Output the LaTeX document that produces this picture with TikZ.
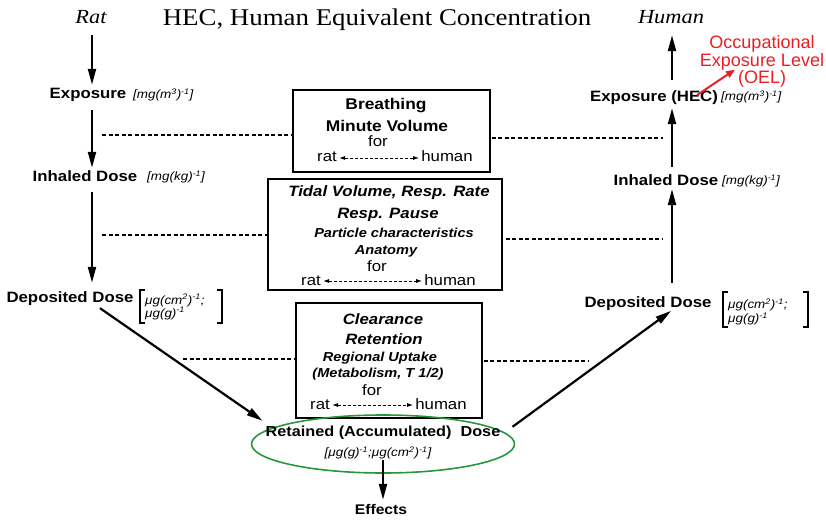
\documentclass[tikz,border=0pt]{standalone}
\usepackage{fontspec}
\setmainfont{Liberation Serif}[FakeStretch=1.12]
\setsansfont{Liberation Sans}[FakeStretch=1.12]
\newfontfamily\oelfont{Liberation Sans}
\usetikzlibrary{arrows.meta,shapes.geometric}
\definecolor{ellgreen}{RGB}{40,150,60}
\definecolor{oelred}{RGB}{235,30,35}
\tikzset{
  serifit/.style={font=\rmfamily\itshape\fontsize{20}{24}\selectfont, inner sep=0pt, text height=14pt, text depth=0pt},
  lbl/.style={font=\sffamily\bfseries\fontsize{15}{18}\selectfont, inner sep=0pt, text height=11pt, text depth=3pt},
  unitt/.style={font=\sffamily\itshape\fontsize{12}{13}\selectfont, inner sep=0pt, text height=8pt, text depth=3pt},
  unitb/.style={font=\sffamily\itshape\fontsize{12}{13}\selectfont, inner sep=0pt, align=left},
  bt/.style={font=\sffamily\bfseries\fontsize{15.5}{18}\selectfont, inner sep=0pt},
  bi/.style={font=\sffamily\bfseries\itshape\fontsize{15}{18}\selectfont, inner sep=0pt},
  bis/.style={font=\sffamily\bfseries\itshape\fontsize{13}{16}\selectfont, inner sep=0pt},
  rt/.style={font=\sffamily\fontsize{15}{18}\selectfont, inner sep=0pt, text height=11pt, text depth=3pt},
  boxx/.style={draw, line width=1.3pt, inner sep=0pt},
  arr/.style={line width=2.2pt, -{Triangle[length=16pt,width=8pt]}},
  dl/.style={line width=1.5pt, dash pattern=on 4pt off 2.5pt},
  dbl/.style={line width=0.9pt, dash pattern=on 3pt off 2pt, {Latex[length=6pt,width=4pt]}-{Latex[length=6pt,width=4pt]}, shorten <=2pt, shorten >=2pt},
  brk/.style={line width=1.1pt},
}
\begin{document}
\begin{tikzpicture}[x=1pt,y=-1pt]
\useasboundingbox (0,0) rectangle (826,521);
% column coordinates
\coordinate (colL) at (92,0);
\coordinate (colR) at (672,0);
% headings
\node[serifit] (rat) at (91,17) {Rat};
\node[serifit] (human) at (671,17) {Human};
\node[font=\rmfamily\fontsize{24}{28}\selectfont, inner sep=0pt] (title) at (377,20) {HEC, Human Equivalent Concentration};
% left labels
\node[lbl] (expL) at (88,95) {Exposure};
\node[unitt, anchor=west] (expLu) at (133,96) {[mg(m\textsuperscript{3})\textsuperscript{-1}]};
\node[lbl] (inhL) at (85,178) {Inhaled Dose};
\node[unitt, anchor=west] (inhLu) at (147,178) {[mg(kg)\textsuperscript{-1}]};
\node[lbl] (depL) at (70,298) {Deposited Dose};
\node[unitb, anchor=west] (depLu) at (145,307) {μg(cm\textsuperscript{2})\textsuperscript{-1};\\μg(g)\textsuperscript{-1}};
\draw[brk] (145,290) -- (140,290) -- (140,323) -- (145,323);
\draw[brk] (217,290) -- (222,290) -- (222,323) -- (217,323);
% right labels
\node[lbl] (expR) at (654,98) {Exposure (HEC)};
\node[unitt, anchor=west] (expRu) at (721,98) {[mg(m\textsuperscript{3})\textsuperscript{-1}]};
\node[lbl] (inhR) at (666,182) {Inhaled Dose};
\node[unitt, anchor=west] (inhRu) at (722,182) {[mg(kg)\textsuperscript{-1}]};
\node[lbl] (depR) at (648,303) {Deposited Dose};
\node[unitb, anchor=west, font=\sffamily\itshape\fontsize{12}{14}\selectfont] (depRu) at (728,312) {μg(cm\textsuperscript{2})\textsuperscript{-1};\\μg(g)\textsuperscript{-1}};
\draw[brk] (728,292) -- (723,292) -- (723,327) -- (728,327);
\draw[brk] (803,292) -- (808,292) -- (808,327) -- (803,327);
% OEL
\node[font=\oelfont\fontsize{18}{17.5}\selectfont, text=oelred, align=center, inner sep=0pt] (oel) at (762,61.5) {Occupational\\Exposure Level\\(OEL)};
\draw[oelred, line width=2pt, -{Triangle[length=9pt,width=7pt]}] ([xshift=-21pt,yshift=3pt]expR.east) -- ([xshift=-27pt,yshift=18pt]oel.south);
% boxes
\node[boxx, minimum width=197pt, minimum height=82pt] (box1) at (391.5,131) {};
\node[boxx, minimum width=234pt, minimum height=111pt] (box2) at (385,234.5) {};
\node[boxx, minimum width=186pt, minimum height=115pt] (box3) at (389,360.5) {};
% box1 text
\node[bt] (b1a) at (386,106) {Breathing};
\node[bt] (b1b) at (387,126) {Minute Volume};
\node[rt] (b1c) at (378,143) {for};
\node[rt] (b1r) at (327,158) {rat};
\node[rt] (b1h) at (447,158) {human};
\draw[dbl] (b1r) -- (b1h);
% box2 text
\node[bi] (b2a) at (389,193) {Tidal Volume, Resp. Rate};
\node[bi] (b2b) at (388,215) {Resp. Pause};
\node[bis] (b2c) at (394,233) {Particle characteristics};
\node[bis] (b2d) at (386,251) {Anatomy};
\node[rt] (b2e) at (377,267) {for};
\node[rt] (b2r) at (311,281) {rat};
\node[rt] (b2h) at (450,281) {human};
\draw[dbl] (b2r) -- (b2h);
% box3 text
\node[bi] (b3a) at (383,319) {Clearance};
\node[bi] (b3b) at (384,339) {Retention};
\node[bis] (b3c) at (380,358) {Regional Uptake};
\node[bis] (b3d) at (378,374) {(Metabolism, T 1/2)};
\node[rt] (b3e) at (372,391) {for};
\node[rt] (b3r) at (320,405) {rat};
\node[rt] (b3h) at (441,405) {human};
\draw[dbl] (b3r) -- (b3h);
% retained dose
\node[ellipse, draw=ellgreen, line width=1.6pt, minimum width=263pt, minimum height=58pt, inner sep=0pt] (ell) at (383,444) {};
\node[lbl, font=\sffamily\bfseries\fontsize{14.5}{18}\selectfont] (ret) at (383,432) {Retained (Accumulated)\ \ Dose};
\node[unitt] (retu) at (378,454) {[μg(g)\textsuperscript{-1};μg(cm\textsuperscript{2})\textsuperscript{-1}]};
\node[lbl, font=\sffamily\bfseries\fontsize{14}{17}\selectfont] (eff) at (381,510) {Effects};
% vertical arrows left
\draw[arr, shorten <=11pt, shorten >=3pt] (rat.south -| colL) -- (expL.north -| colL);
\draw[arr, shorten <=8pt, shorten >=3pt] (expL.south -| colL) -- (inhL.north -| colL);
\draw[arr, shorten <=7pt, shorten >=8pt] (inhL.south -| colL) -- (depL.north -| colL);
% vertical arrows right
\draw[arr, shorten <=11pt, shorten >=11pt] (expR.north -| colR) -- (human.south -| colR);
\draw[arr, shorten <=8pt, shorten >=3pt] (inhR.north -| colR) -- (expR.south -| colR);
\draw[arr, shorten <=13pt, shorten >=0pt] (depR.north -| colR) -- (inhR.south -| colR);
% diagonal arrows
\draw[arr] ([xshift=30pt,yshift=-3pt]depL.south) -- ([xshift=-3pt,yshift=4pt]ret.north west);
\draw[arr, shorten >=1pt] ([xshift=12pt,yshift=-2pt]ret.north east) -- (depR.south -| colR);
% effects
\draw[arr, shorten >=3pt] (retu.south -| ell.center) -- (eff.north -| ell.center);
% dashed lines
\coordinate (dL1) at (102,135);
\coordinate (dL2) at (102,235);
\coordinate (dL3) at (183,359);
\coordinate (dR1) at (663,138);
\coordinate (dR2) at (663,239);
\coordinate (dR3) at (588,361);
\draw[dl] (dL1) -- (dL1 -| box1.west);
\draw[dl] (dL2) -- (dL2 -| box2.west);
\draw[dl] (dL3) -- (dL3 -| box3.west);
\draw[dl, shorten <=1pt] (dR1 -| box1.east) -- (dR1);
\draw[dl, shorten <=3pt] (dR2 -| box2.east) -- (dR2);
\draw[dl, shorten <=1pt] (dR3 -| box3.east) -- (dR3);
\end{tikzpicture}
\end{document}
